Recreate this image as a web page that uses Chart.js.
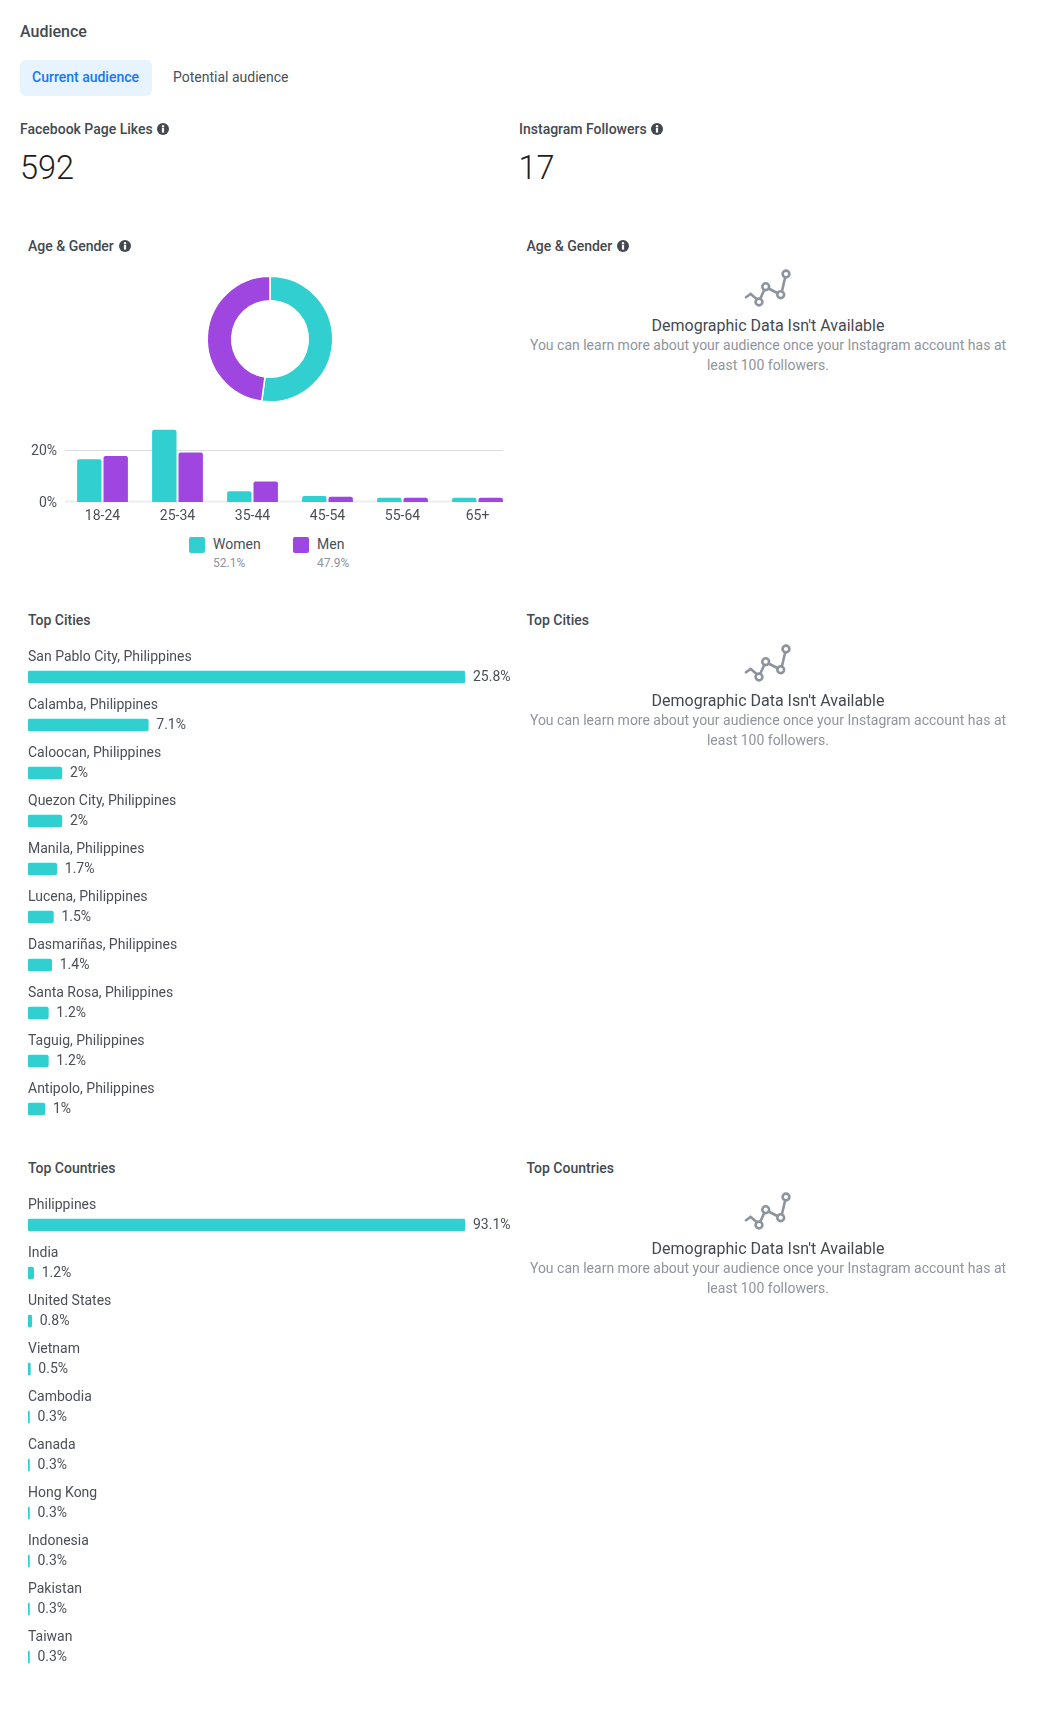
<!DOCTYPE html>
<html>
<head>
<meta charset="utf-8">
<title>Audience</title>
<script src="https://cdn.jsdelivr.net/npm/chart.js@4"></script>
<style>
    html, body { margin: 0; padding: 0; background: #fff; }
    body { position: relative; width: 1053px; height: 1711px; overflow: hidden; font-family: Roboto, sans-serif; color: #4b4f56; }
    .t { position: absolute; white-space: nowrap; line-height: 20px; }
    .h { font-size: 14px; font-weight: 500; color: #444950; }
    canvas { position: absolute; }
    svg { position: absolute; }
    .center { text-align: center; width: 500px; left: 518px; }
</style>
</head>
<body>
<div class="t" style="left:20px;top:22px;font-size:16px;font-weight:500;color:#444950;">Audience</div>
<div style="position:absolute;left:20px;top:60px;width:132px;height:36px;background:#e7f3ff;border-radius:6px;"></div>
<div class="t" style="left:32px;top:67px;font-size:14px;font-weight:500;color:#1877f2;">Current audience</div>
<div class="t" style="left:173px;top:67px;font-size:14px;">Potential audience</div>
<div class="t h" style="left:20px;top:119px;">Facebook Page Likes</div>
<div class="t" style="left:20px;top:150px;font-size:32.5px;font-weight:300;line-height:36px;color:#1c1e21;">592</div>
<div class="t h" style="left:519px;top:119px;">Instagram Followers</div>
<div class="t" style="left:518.5px;top:150px;font-size:32.5px;font-weight:300;line-height:36px;color:#1c1e21;">17</div>

<canvas id="donutChart" style="left:195px;top:264px;"></canvas>
<canvas id="ageChart" style="left:0;top:415px;"></canvas>
<canvas id="cityChart" style="left:0;top:640px;"></canvas>
<canvas id="countryChart" style="left:0;top:1188px;"></canvas>

<div id="legend"></div>
<div id="panels"></div>

<script>
const ageLabels = ['18-24', '25-34', '35-44', '45-54', '55-64', '65+'];
const womenValues = [16.5, 27.9, 4.2, 2.3, 1.6, 1.6];
const menValues = [17.8, 19.1, 7.9, 2.0, 1.6, 1.6];
const genderLabels = ['Women', 'Men'];
const genderShare = [52.1, 47.9];
const ageTicks = [0, 20];

const cityLabels = ['San Pablo City, Philippines', 'Calamba, Philippines', 'Caloocan, Philippines', 'Quezon City, Philippines', 'Manila, Philippines', 'Lucena, Philippines', 'Dasmariñas, Philippines', 'Santa Rosa, Philippines', 'Taguig, Philippines', 'Antipolo, Philippines'];
const cityValues = [25.8, 7.1, 2, 2, 1.7, 1.5, 1.4, 1.2, 1.2, 1];

const countryLabels = ['Philippines', 'India', 'United States', 'Vietnam', 'Cambodia', 'Canada', 'Hong Kong', 'Indonesia', 'Pakistan', 'Taiwan'];
const countryValues = [93.1, 1.2, 0.8, 0.5, 0.3, 0.3, 0.3, 0.3, 0.3, 0.3];

const TEAL = '#31cfcf';
const PURPLE = '#9f45e0';
const TEXT = '#4b4f56';

Chart.defaults.font.family = 'Roboto';
Chart.defaults.animation = false;
Chart.defaults.responsive = false;

function sizeCanvas(id, w, h) {
    const canvas = document.getElementById(id);
    canvas.width = w;
    canvas.height = h;
    return canvas;
}

// Donut
new Chart(sizeCanvas('donutChart', 150, 150), {
    type: 'doughnut',
    data: {
        labels: genderLabels,
        datasets: [{ data: genderShare, backgroundColor: [TEAL, PURPLE], borderColor: '#fff', borderWidth: 1.5 }]
    },
    options: {
        cutout: '61%',
        layout: { padding: 11.5 },
        plugins: { legend: { display: false }, tooltip: { enabled: false } }
    }
});

// The 20% and 0% lines stop at the last bar, not at the end of the last band
const ageGridPlugin = {
    id: 'ageGrid',
    beforeDatasetsDraw(chart) {
        const { ctx, chartArea, scales } = chart;
        const bar = chart.getDatasetMeta(1).data[ageLabels.length - 1];
        const right = bar.x + bar.width / 2;
        ctx.save();
        ageTicks.forEach(v => {
            const y = scales.y.getPixelForValue(v);
            const lineY = v === 0 ? y - 0.5 : Math.round(y) + 0.5;
            ctx.strokeStyle = v === 0 ? '#ebedf0' : '#dadde1';
            ctx.lineWidth = v === 0 ? 2 : 1;
            ctx.beginPath();
            ctx.moveTo(chartArea.left, lineY);
            ctx.lineTo(right, lineY);
            ctx.stroke();
        });
        ctx.restore();
    }
};

new Chart(sizeCanvas('ageChart', 530, 115), {
    type: 'bar',
    data: {
        labels: ageLabels,
        datasets: [
            { label: genderLabels[0], data: womenValues, backgroundColor: TEAL },
            { label: genderLabels[1], data: menValues, backgroundColor: PURPLE }
        ]
    },
    options: {
        layout: { padding: { left: 0, right: 15, top: 9.4, bottom: 0 } },
        categoryPercentage: 52.8 / 75,
        barPercentage: 24.4 / 26.4,
        borderRadius: { topLeft: 2, topRight: 2 },
        borderSkipped: 'bottom',
        scales: {
            x: {
                afterFit(scale) { scale.height = 28; scale.paddingLeft = 0; scale.paddingRight = 0; },
                grid: { display: false, drawTicks: false },
                border: { display: false },
                ticks: { color: TEXT, font: { size: 14 }, padding: 6, maxRotation: 0 }
            },
            y: {
                min: 0,
                max: 30,
                afterFit(scale) { scale.width = 65; scale.paddingTop = 0; scale.paddingBottom = 0; },
                afterBuildTicks(scale) { scale.ticks = ageTicks.map(value => ({ value })); },
                grid: { display: false, drawTicks: false },
                border: { display: false },
                ticks: { color: TEXT, font: { size: 14 }, padding: 8, labelOffset: 1, callback: v => v + '%' }
            }
        },
        plugins: { legend: { display: false }, tooltip: { enabled: false } }
    },
    plugins: [ageGridPlugin]
});

// Name above each bar, value to the right of it
const rowLabelPlugin = {
    id: 'rowLabels',
    afterDatasetsDraw(chart) {
        const { ctx, chartArea } = chart;
        const meta = chart.getDatasetMeta(0);
        const values = chart.data.datasets[0].data;
        ctx.save();
        ctx.font = '14px Roboto';
        ctx.fillStyle = TEXT;
        ctx.textBaseline = 'middle';
        meta.data.forEach((bar, i) => {
            ctx.textAlign = 'left';
            ctx.fillText(chart.data.labels[i], chartArea.left, bar.y - 20);
            ctx.fillText(values[i] + '%', bar.x + 8, bar.y);
        });
        ctx.restore();
    }
};

function drawRows(id, labels, values) {
    return new Chart(sizeCanvas(id, 530, 500), {
        type: 'bar',
        data: { labels, datasets: [{ data: values, backgroundColor: TEAL }] },
        options: {
            indexAxis: 'y',
            layout: { padding: { left: 28, right: 65, top: 13, bottom: 7 } },
            barThickness: 12,
            borderRadius: 2,
            borderSkipped: false,
            scales: {
                x: { display: false, min: 0, max: Math.max(...values) },
                y: { display: false }
            },
            plugins: { legend: { display: false }, tooltip: { enabled: false } }
        },
        plugins: [rowLabelPlugin]
    });
}

drawRows('cityChart', cityLabels, cityValues);
drawRows('countryChart', countryLabels, countryValues);

// Legend under the age chart
const legend = document.getElementById('legend');
[189, 293].forEach((x, i) => {
    legend.insertAdjacentHTML('beforeend',
        `<div style="position:absolute;left:${x}px;top:537px;width:16px;height:16px;border-radius:2px;background:${i ? PURPLE : TEAL};"></div>` +
        `<div class="t" style="left:${x + 24}px;top:534px;font-size:14px;">${genderLabels[i]}</div>` +
        `<div class="t" style="left:${x + 24}px;top:553px;font-size:12px;color:#90949c;">${genderShare[i]}%</div>`);
});

// Info icons and the right hand column
const INFO = (x, y) => `<svg style="left:${x}px;top:${y}px" width="12" height="12" viewBox="0 0 12 12"><circle cx="6" cy="6" r="6" fill="#444950"/><rect x="4.9" y="5" width="2.2" height="4.6" fill="#fff"/><circle cx="6" cy="3.2" r="1.2" fill="#fff"/></svg>`;
const LINE_ICON = (x, y) => `<svg style="left:${x}px;top:${y}px" width="48" height="42" viewBox="0 0 48 42" fill="none" stroke="#8d949e" stroke-width="2.6"><path d="M2 29.3 L6.7 26 L12 30.5 M16.6 30 L20 22.5 M25.5 21 L33.3 25 M38 23 L41 10" stroke-linecap="round"/><circle cx="15" cy="34" r="3.4"/><circle cx="21.7" cy="18.7" r="3.4"/><circle cx="36.7" cy="26.7" r="3.4"/><circle cx="42" cy="6" r="3.4"/></svg>`;

const panels = document.getElementById('panels');
panels.insertAdjacentHTML('beforeend', INFO(157, 123) + INFO(651, 123) + INFO(119, 240) + INFO(617, 240));
[['Age &amp; Gender', 236], ['Top Cities', 611], ['Top Countries', 1159]].forEach(([title, y], i) => {
    const headY = i ? y - 1 : y;
    panels.insertAdjacentHTML('beforeend',
        `<div class="t h" style="left:28px;top:${headY}px;">${title}</div>` +
        `<div class="t h" style="left:526.5px;top:${headY}px;">${title}</div>` +
        LINE_ICON(744, y + 32) +
        `<div class="t center" style="top:${y + 80}px;font-size:16px;color:#444950;">Demographic Data Isn't Available</div>` +
        `<div class="t center" style="top:${y + 99}px;font-size:14px;color:#90949c;">You can learn more about your audience once your Instagram account has at</div>` +
        `<div class="t center" style="top:${y + 119}px;font-size:14px;color:#90949c;">least 100 followers.</div>`);
});
</script>
</body>
</html>
